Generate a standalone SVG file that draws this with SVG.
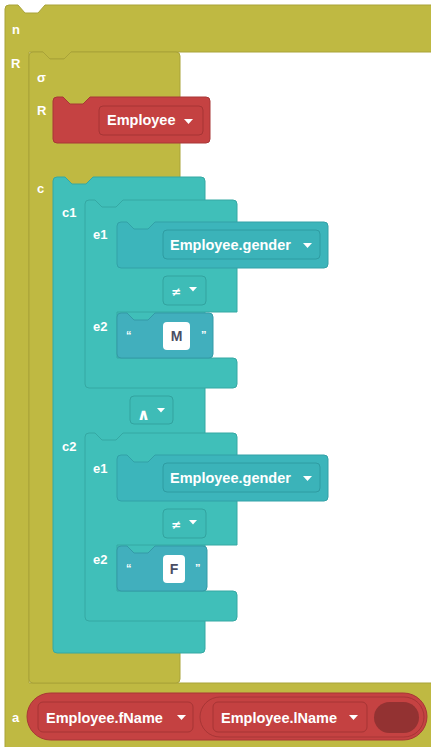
<svg xmlns="http://www.w3.org/2000/svg" width="431" height="747" viewBox="0 0 431 747">
  <style>
    .lbl{font-family:"Liberation Sans",Arial,sans-serif;font-weight:bold;font-size:13px;fill:#fff}
    .fld{font-family:"Liberation Sans",Arial,sans-serif;font-weight:bold;font-size:14.5px;fill:#fff}
    .op{font-family:"DejaVu Sans","Liberation Sans",sans-serif;font-weight:bold;font-size:12px;fill:#fff}
    .wedge{font-family:"DejaVu Sans","Liberation Sans",sans-serif;font-weight:bold;font-size:16px;fill:#fff}
    .quote{font-family:"Liberation Sans",Arial,sans-serif;font-weight:bold;font-size:11px;fill:#fff}
    .olive{fill:#bfb942;stroke:#a9a339;stroke-width:1}
    .red{fill:#c54242;stroke:#a83636;stroke-width:1}
    .redField{fill:#c44141;stroke:#a63535;stroke-width:1}
    .teal{fill:#40bfb9;stroke:#35a8a3;stroke-width:1}
    .tealField{fill:#3ebcb7;stroke:#32a39f;stroke-width:1}
    .expr{fill:#3cb5bb;stroke:#32a1a7;stroke-width:1}
    .exprField{fill:#3bb3b9;stroke:#2f9ca2;stroke-width:1}
    .str{fill:#41afbd;stroke:#349aa7;stroke-width:1}
    .arrow{fill:#fff}
    .box{fill:#fff}
    .boxText{font-family:"Liberation Sans",Arial,sans-serif;font-weight:bold;font-size:14px;fill:#4a4e63}
  </style>

  <!-- outer projection block (n / R / a) -->
  <g id="block-n">
    <path class="olive" d="M5,9 Q5,5 9,5 H18 l7,8 h13 l7,-8 H436 V52 H71 l-7,7 h-14 l-7,-7 H29 V683 H436 V752 H5 Z"/>
    <text class="lbl" x="12" y="34">n</text>
    <text class="lbl" x="11" y="68">R</text>
    <text class="lbl" x="12" y="722">a</text>
  </g>

  <!-- selection block (σ) -->
  <g id="block-sigma">
    <path class="olive" d="M29,56 Q29,52 33,52 H43 l7,7 h14 l7,-7 H176 Q180,52 180,56 V679 Q180,683 176,683 H33 Q29,683 29,679 Z"/>
    <text class="lbl" x="37" y="82">σ</text>
    <text class="lbl" x="37" y="115">R</text>
    <text class="lbl" x="37" y="193">c</text>
  </g>

  <!-- relation block -->
  <g id="block-employee">
    <path class="red" d="M53,101 Q53,97 57,97 H63 l7,7 h13 l7,-7 H206 Q210,97 210,101 V139 Q210,143 206,143 H57 Q53,143 53,139 Z"/>
    <rect class="redField" x="99" y="106" width="104" height="29" rx="4"/>
    <text class="fld" x="107" y="125">Employee</text>
    <polygon class="arrow" points="184,119 193,119 188.5,124"/>
  </g>

  <!-- conjunction block -->
  <g id="block-and">
    <path class="teal" d="M53,181 Q53,177 57,177 H65 l7,7 h14 l7,-7 H201 Q205,177 205,181 V649 Q205,653 201,653 H57 Q53,653 53,649 Z"/>
    <rect class="tealField" x="130" y="396" width="43" height="28" rx="4"/>
    <text class="wedge" x="137" y="420">∧</text>
    <polygon class="arrow" points="157,408 165,408 161,412.5"/>
  </g>

  <!-- condition c1 -->
  <g id="block-c1">
    <path class="teal" d="M85,204 Q85,200 89,200 H95 l7,7 h14 l7,-7 H233 Q237,200 237,204 V312 H117 V358 H233 Q237,358 237,362 V384 Q237,388 233,388 H89 Q85,388 85,384 Z"/>
    <text class="lbl" x="62" y="217">c1</text>
    <text class="lbl" x="93" y="239">e1</text>
    <text class="lbl" x="93" y="331">e2</text>
    <rect class="tealField" x="163" y="276" width="43" height="29" rx="4"/>
    <text class="op" x="171" y="296">≠</text>
    <polygon class="arrow" points="189,287 197,287 193,291.5"/>
  </g>
  <g id="block-c1-e1">
    <path class="expr" d="M117,226 Q117,222 121,222 H127 l7,7 h14 l7,-7 H324 Q328,222 328,226 V264 Q328,268 324,268 H121 Q117,268 117,264 Z"/>
    <rect class="exprField" x="163" y="230" width="157" height="29" rx="4"/>
    <text class="fld" x="170" y="250">Employee.gender</text>
    <polygon class="arrow" points="303,243 312,243 307.5,248"/>
  </g>
  <g id="block-c1-e2">
    <path class="str" d="M117,317 Q117,313 121,313 H127 l7,7 h14 l7,-7 H209 Q213,313 213,317 V354 Q213,358 209,358 H121 Q117,358 117,354 Z"/>
    <text class="quote" x="126" y="339">“</text>
    <rect class="box" x="163" y="322" width="27" height="28" rx="4"/>
    <text class="boxText" x="176.5" y="341" text-anchor="middle">M</text>
    <text class="quote" x="201" y="339">”</text>
  </g>

  <!-- condition c2 -->
  <g id="block-c2">
    <path class="teal" d="M85,437 Q85,433 89,433 H95 l7,7 h14 l7,-7 H233 Q237,433 237,437 V545 H117 V591 H233 Q237,591 237,595 V617 Q237,621 233,621 H89 Q85,621 85,617 Z"/>
    <text class="lbl" x="62" y="451">c2</text>
    <text class="lbl" x="93" y="473">e1</text>
    <text class="lbl" x="93" y="564">e2</text>
    <rect class="tealField" x="163" y="509" width="43" height="29" rx="4"/>
    <text class="op" x="171" y="529">≠</text>
    <polygon class="arrow" points="189,520 197,520 193,524.5"/>
  </g>
  <g id="block-c2-e1">
    <path class="expr" d="M117,459 Q117,455 121,455 H127 l7,7 h14 l7,-7 H324 Q328,455 328,459 V497 Q328,501 324,501 H121 Q117,501 117,497 Z"/>
    <rect class="exprField" x="163" y="463" width="157" height="29" rx="4"/>
    <text class="fld" x="170" y="483">Employee.gender</text>
    <polygon class="arrow" points="303,476 312,476 307.5,481"/>
  </g>
  <g id="block-c2-e2">
    <path class="str" d="M117,550 Q117,546 121,546 H127 l7,7 h14 l7,-7 H203 Q207,546 207,550 V587 Q207,591 203,591 H121 Q117,591 117,587 Z"/>
    <text class="quote" x="126" y="572">“</text>
    <rect class="box" x="163" y="555" width="22" height="28" rx="4"/>
    <text class="boxText" x="174" y="574" text-anchor="middle">F</text>
    <text class="quote" x="195" y="572">”</text>
  </g>

  <!-- attribute list -->
  <g id="block-attrs">
    <rect class="red" x="27" y="693" width="400" height="47" rx="23.5"/>
    <rect class="redField" x="38" y="702" width="155" height="30" rx="5"/>
    <text class="fld" x="46" y="723">Employee.fName</text>
    <polygon class="arrow" points="177,715 186,715 181.5,720"/>
  </g>
  <g id="block-attrs-2">
    <rect class="red" x="200" y="697" width="224" height="40" rx="20"/>
    <rect class="redField" x="213" y="702" width="154" height="30" rx="5"/>
    <text class="fld" x="221" y="723">Employee.lName</text>
    <polygon class="arrow" points="349,715 358,715 353.5,720"/>
    <rect x="374" y="702" width="45" height="31" rx="15.5" fill="#933232"/>
  </g>
</svg>
